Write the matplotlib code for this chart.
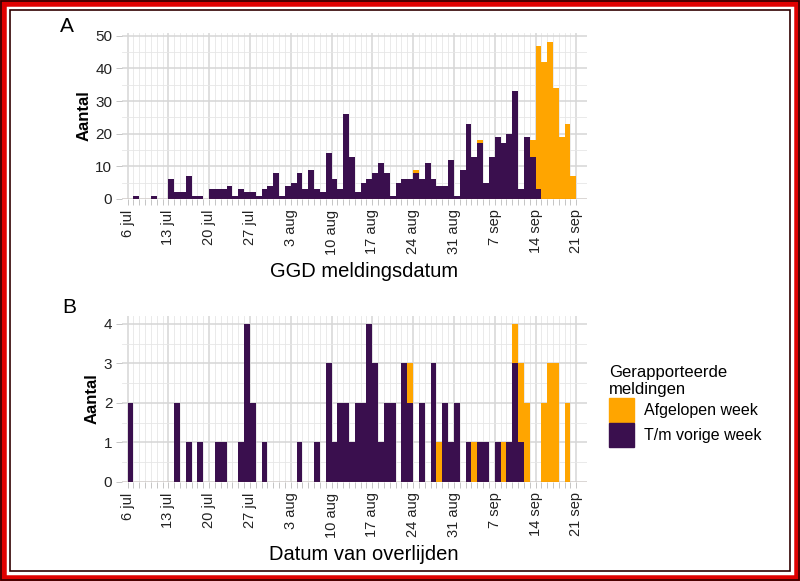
import numpy as np
import matplotlib.pyplot as plt
from matplotlib.patches import Rectangle, Patch

plt.rcParams['font.family'] = ['Liberation Sans', 'DejaVu Sans']

# days since 6 jul
week_labels = ['6 jul', '13 jul', '20 jul', '27 jul', '3 aug', '10 aug', '17 aug',
               '24 aug', '31 aug', '7 sep', '14 sep', '21 sep']

# Panel A: GGD meldingsdatum, 6 jul .. 20 sep
a_vorige = [0, 1, 0, 0, 1, 0, 0, 6, 2, 2, 7, 1, 1, 0,
            3, 3, 3, 4, 1, 3, 2, 2, 1, 3, 4, 8, 1, 4,
            5, 8, 3, 9, 3, 2, 14, 6, 3, 26, 13, 2, 5, 6,
            8, 11, 8, 1, 5, 6, 6, 8, 6, 11, 6, 4, 4, 12,
            1, 9, 23, 13, 17, 5, 13, 19, 17, 20, 33, 3, 19, 13,
            3, 0, 0, 0, 0, 0, 0]
a_afgelopen = [0] * 49 + [1] + [0] * 10 + [1] + [0] * 8 + [5,
               44, 42, 48, 34, 19, 23, 7]

# Panel B: datum van overlijden
b_vorige = [2, 0, 0, 0, 0, 0, 0, 0, 2, 0, 1, 0, 1, 0,
            0, 1, 1, 0, 0, 1, 4, 2, 0, 1, 0, 0, 0, 0,
            0, 1, 0, 0, 1, 0, 3, 1, 2, 2, 1, 2, 2, 4,
            3, 1, 2, 2, 0, 3, 2, 0, 2, 0, 3, 0, 2, 1,
            2, 0, 1, 0, 1, 1, 0, 1, 0, 1, 3, 1, 0, 0,
            0, 0, 0, 0, 0, 0]
b_afgelopen = [0] * 48 + [1] + [0] * 4 + [1] + [0] * 5 + [1] + [0] * 4 + [1, 0, 1,
               2, 2, 0, 0, 2, 3, 3, 0, 2]

purple = '#3a0f4e'
orange = '#ffa500'

fig = plt.figure(figsize=(8, 5.81), dpi=100)

# red picture frame
fig.patches.append(Rectangle((0, 0), 1, 1, transform=fig.transFigure, fill=False,
                             edgecolor='#e00000', linewidth=9, zorder=10))
fig.patches.append(Rectangle((0.0125, 0.017), 0.975, 0.966, transform=fig.transFigure,
                             fill=False, edgecolor='#300000', linewidth=1.2, zorder=10))
fig.patches.append(Rectangle((0.001, 0.001), 0.998, 0.998, transform=fig.transFigure,
                             fill=False, edgecolor='#300000', linewidth=1.2, zorder=11))


def draw_panel(ax, vorige, afgelopen, ymax, yticks, xlabel):
    vorige = np.array(vorige)
    afgelopen = np.array(afgelopen)
    days = np.arange(len(vorige))
    ax.bar(days, vorige, width=1, align='edge', color=purple, zorder=3)
    ax.bar(days, afgelopen, width=1, align='edge', bottom=vorige, color=orange, zorder=3)
    ax.axhline(0, color='#a0522d', lw=0.8, zorder=4)
    ax.set_xlim(-0.95, 78.8)
    ax.set_ylim(0, ymax)
    ax.set_xticks(np.arange(0, 78, 7))
    ax.set_xticklabels(week_labels, rotation=90, fontsize=10.5, color='#222222')
    ax.set_xticks(np.arange(0, 78, 1), minor=True)
    ax.set_yticks(yticks)
    ax.set_yticklabels([str(t) for t in yticks], fontsize=11, color='#222222')
    step = yticks[1] - yticks[0]
    ax.set_yticks(np.arange(step / 2, ymax, step), minor=True)
    ax.grid(which='major', color='#d6d6d6', lw=1.1, zorder=0)
    ax.grid(which='minor', color='#e6e6e6', lw=0.6, zorder=0)
    ax.tick_params(which='both', axis='x', length=4, color='#bbbbbb', width=0.6)
    ax.tick_params(which='major', axis='y', length=4, color='#bbbbbb', width=0.6, pad=3)
    ax.tick_params(which='minor', axis='y', length=0)
    for s in ax.spines.values():
        s.set_visible(False)
    ax.set_ylabel('Aantal', fontsize=12, fontweight='bold', labelpad=3)
    ax.set_xlabel(xlabel, fontsize=14.5, labelpad=3)
    ax.xaxis.set_label_coords(0.52, -0.38)
    ax.set_axisbelow(True)


axA = fig.add_axes([0.1525, 0.6575, 0.581, 0.2855])
draw_panel(axA, a_vorige, a_afgelopen, 50.8, [0, 10, 20, 30, 40, 50], 'GGD meldingsdatum')
fig.text(0.084, 0.955, 'A', fontsize=15, ha='center', va='center')

axB = fig.add_axes([0.1525, 0.1704, 0.581, 0.2856])
draw_panel(axB, b_vorige, b_afgelopen, 4.2, [0, 1, 2, 3, 4], 'Datum van overlijden')
fig.text(0.086, 0.471, 'B', fontsize=15, ha='center', va='center')

handles = [Patch(facecolor=orange, edgecolor=orange), Patch(facecolor=purple, edgecolor=purple)]
leg = fig.legend(handles, ['Afgelopen week', 'T/m vorige week'],
                 title='Gerapporteerde\nmeldingen', loc='upper left',
                 bbox_to_anchor=(0.743, 0.397), frameon=False, fontsize=11.5,
                 title_fontsize=12, handlelength=1.6, handleheight=1.9,
                 handletextpad=0.6, labelspacing=0.08, borderpad=0.4)
leg._legend_box.align = 'left'

fig.savefig('out.png', dpi=100)
